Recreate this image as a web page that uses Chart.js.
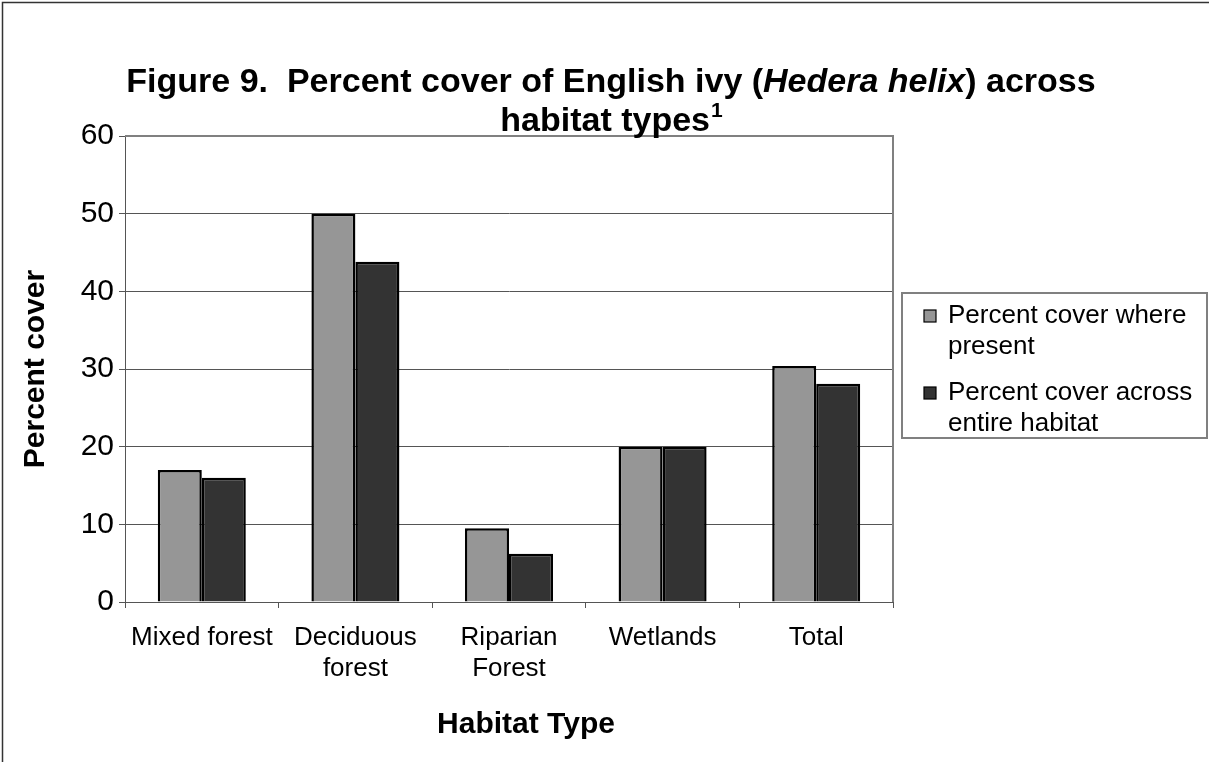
<!DOCTYPE html>
<html>
<head>
<meta charset="utf-8">
<script src="https://cdn.jsdelivr.net/npm/chart.js@4/dist/chart.umd.min.js"></script>
<style>
  html, body { margin: 0; padding: 0; background: #fff; }
  #wrap { width: 1209px; height: 762px; position: relative; }
</style>
</head>
<body>
<div id="wrap"><canvas id="c" width="1209" height="762"></canvas></div>
<script>
// ---- data ----
const categories = ["Mixed forest", ["Deciduous", "forest"], ["Riparian", "Forest"], "Wetlands", "Total"];
const seriesNames = ["Percent cover where present", "Percent cover across entire habitat"];
const wherePresent = [17, 50, 9.5, 20, 30.4];
const acrossHabitat = [16, 43.8, 6.2, 20, 28.1];
const yTicks = [0, 10, 20, 30, 40, 50, 60];
const titleLine1 = [
  { text: "Figure 9.  Percent cover of English ivy (", italic: false },
  { text: "Hedera helix", italic: true },
  { text: ") across", italic: false }
];
const titleLine2 = "habitat types";
const titleSup = "1";
const xTitle = "Habitat Type";
const yTitle = "Percent cover";

const FONT = '"Liberation Sans", Arial, Helvetica, sans-serif';

const decorPlugin = {
  id: 'decor',
  beforeDraw(chart) {
    const ctx = chart.ctx;
    ctx.save();
    ctx.fillStyle = '#fff';
    ctx.fillRect(0, 0, chart.width, chart.height);
    ctx.strokeStyle = '#333';
    ctx.lineWidth = 1.5;
    ctx.beginPath();
    ctx.moveTo(2.5, chart.height);
    ctx.lineTo(2.5, 2.5);
    ctx.lineTo(chart.width, 2.5);
    ctx.stroke();
    ctx.restore();
  },
  afterDatasetsDraw(chart) {
    const ctx = chart.ctx;
    const a = chart.chartArea;
    ctx.save();
    ctx.strokeStyle = '#808080';
    ctx.lineWidth = 2;
    ctx.beginPath();
    ctx.moveTo(a.left, a.top);
    ctx.lineTo(a.right, a.top);
    ctx.lineTo(a.right, a.bottom);
    ctx.stroke();
    ctx.restore();
  },
  afterDraw(chart) {
    const ctx = chart.ctx;
    ctx.save();
    // ---- main title ----
    const tSize = 34;
    ctx.fillStyle = '#000';
    ctx.textBaseline = 'alphabetic';
    ctx.textAlign = 'left';
    const fnt = (it) => (it ? 'italic ' : '') + 'bold ' + tSize + 'px ' + FONT;
    let total = 0;
    titleLine1.forEach(p => { ctx.font = fnt(p.italic); total += ctx.measureText(p.text).width; });
    const cx = 611;
    let x = cx - total / 2;
    titleLine1.forEach(p => { ctx.font = fnt(p.italic); ctx.fillText(p.text, x, 92); x += ctx.measureText(p.text).width; });
    ctx.font = fnt(false);
    const w2 = ctx.measureText(titleLine2).width;
    ctx.font = 'bold 21px ' + FONT;
    const ws = ctx.measureText(titleSup).width;
    let x2 = cx - (w2 + ws) / 2;
    ctx.font = fnt(false);
    ctx.fillText(titleLine2, x2, 131);
    ctx.font = 'bold 21px ' + FONT;
    ctx.fillText(titleSup, x2 + w2 + 1, 117);

    // ---- x axis title ----
    ctx.font = 'bold 30px ' + FONT;
    ctx.textAlign = 'center';
    ctx.textBaseline = 'middle';
    ctx.fillText(xTitle, 526, 725);
    ctx.textAlign = 'left';

    // ---- legend ----
    const L = { x: 902, y: 293, w: 305, h: 145 };
    ctx.strokeStyle = '#808080';
    ctx.lineWidth = 2;
    ctx.strokeRect(L.x, L.y, L.w, L.h);
    ctx.font = '26px ' + FONT;
    ctx.textBaseline = 'middle';
    const lineH = 31;
    const itemTops = [316, 393];
    chart.data.datasets.forEach((ds, i) => {
      const words = ds.label.split(' ');
      const lines = [];
      let cur = '';
      words.forEach(wd => {
        const t = cur ? cur + ' ' + wd : wd;
        if (ctx.measureText(t).width > 250 && cur) { lines.push(cur); cur = wd; } else { cur = t; }
      });
      if (cur) lines.push(cur);
      const y0 = itemTops[i];
      ctx.fillStyle = ds.backgroundColor;
      ctx.fillRect(924, y0 - 6, 12, 12);
      ctx.strokeStyle = '#000';
      ctx.lineWidth = 1.2;
      ctx.strokeRect(924, y0 - 6, 12, 12);
      ctx.fillStyle = '#000';
      lines.forEach((ln, k) => ctx.fillText(ln, 948, y0 + k * lineH));
    });
    ctx.restore();
  }
};

new Chart(document.getElementById('c'), {
  type: 'bar',
  data: {
    labels: categories,
    datasets: [
      { label: seriesNames[0], data: wherePresent, backgroundColor: '#969696', borderColor: '#000', borderWidth: 2.5 },
      { label: seriesNames[1], data: acrossHabitat, backgroundColor: '#333333', borderColor: '#000', borderWidth: 2.5 }
    ]
  },
  options: {
    responsive: false,
    animation: false,
    events: [],
    layout: { padding: { left: 0, top: 136, right: 316, bottom: 0 } },
    datasets: { bar: { categoryPercentage: 0.573, barPercentage: 1.0 } },
    plugins: {
      legend: { display: false },
      title: { display: false },
      tooltip: { enabled: false }
    },
    scales: {
      x: {
        offset: true,
        grid: { offset: true, drawOnChartArea: false, color: '#555', tickLength: 6, tickColor: '#555' },
        border: { color: '#555', width: 1 },
        ticks: {
          color: '#000', font: { family: FONT, size: 26 }, padding: 14,
          maxRotation: 0, minRotation: 0, autoSkip: false
        },
        title: { display: false, text: xTitle },
        afterFit(scale) { scale.height = 160; }
      },
      y: {
        min: 0, max: 60,
        afterBuildTicks(scale) { scale.ticks = yTicks.map(v => ({ value: v })); },
        grid: { color: '#555', tickLength: 6, tickColor: '#555' },
        border: { color: '#555', width: 1 },
        ticks: { color: '#000', font: { family: FONT, size: 30 }, padding: 5 },
        title: { display: true, text: yTitle, color: '#000', font: { family: FONT, size: 30, weight: 'bold' }, padding: { top: 18, bottom: 0 } },
        afterFit(scale) { scale.width = 125; }
      }
    }
  },
  plugins: [decorPlugin]
});
</script>
</body>
</html>
